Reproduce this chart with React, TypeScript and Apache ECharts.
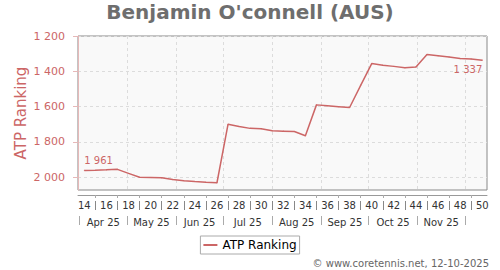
import React, { useEffect, useRef } from 'react';
import * as echarts from 'echarts';

// ISO weeks of 2025 (one ranking per week)
const weeks = [14, 15, 16, 17, 18, 19, 20, 21, 22, 23, 24, 25, 26, 27, 28, 29, 30, 31, 32, 33, 34, 35, 36, 37, 38, 39, 40, 41, 42, 43, 44, 45, 46, 47, 48, 49, 50];
const ranks = [1961, 1960, 1958, 1955, 1978, 2000, 2001, 2003, 2013, 2019, 2024, 2028, 2031, 1700, 1712, 1723, 1725, 1737, 1739, 1741, 1765, 1590, 1595, 1600, 1605, 1480, 1356, 1365, 1372, 1380, 1375, 1305, 1312, 1319, 1328, 1330, 1337];
const weekLabels = [14, 16, 18, 20, 22, 24, 26, 28, 30, 32, 34, 36, 38, 40, 42, 44, 46, 48, 50];
const monthLabels = ['Apr 25', 'May 25', 'Jun 25', 'Jul 25', 'Aug 25', 'Sep 25', 'Oct 25', 'Nov 25'];
const yTicks = [1200, 1400, 1600, 1800, 2000];

const TITLE = "Benjamin O'connell (AUS)";
const SERIES = 'ATP Ranking';
const CREDIT = '\u00a9 www.coretennis.net, 12-10-2025';

const FONT = 'DejaVu Sans';
const RED = '#cc6666';
const DAY = 86400000;
const START = Date.UTC(2025, 2, 31); // Monday of week 14
const firstWeek = weeks[0];
const lastWeek = weeks[weeks.length - 1];
const AXIS_END = (lastWeek - firstWeek + 1) * 7;
const RANK_DAY = 4; // position of the weekly point inside its week

const dayOf = (m: number, d: number) => (Date.UTC(2025, m, d) - START) / DAY;
const monthStarts = [3, 4, 5, 6, 7, 8, 9, 10, 11].map((m) => dayOf(m, 1));
const monthMids = monthStarts.slice(0, -1).map((s, i) => (s + monthStarts[i + 1]) / 2);
const weekStart = (w: number) => (w - firstWeek) * 7;
const weekPoint = (w: number) => weekStart(w) + RANK_DAY;
const weekLabelPos = weekLabels.map(weekPoint);
const oddWeekPos = weeks.filter((w) => !weekLabels.includes(w)).map(weekPoint);

const fmt = (v: number) => String(Math.round(v)).replace(/\B(?=(\d{3})+(?!\d))/g, ' ');

const baseX = {
  type: 'value',
  min: 0,
  max: AXIS_END,
  position: 'bottom',
  gridIndex: 0,
  splitLine: { show: false },
  axisLine: { show: false },
  axisTick: { show: false },
  axisLabel: { show: false },
};

export default function App() {
  const ref = useRef<HTMLDivElement>(null);
  useEffect(() => {
    document.body.style.margin = '0';
    if (!ref.current) return;
    const chart = echarts.init(ref.current, undefined, { renderer: 'svg' });
    const last = weeks.length - 1;
    const data = weeks.map((w, i) => {
      const item: any = { value: [weekPoint(w), ranks[i]] };
      if (i === 0) {
        item.label = { show: true, position: 'top', align: 'left', distance: 4 };
      } else if (i === last) {
        item.label = { show: true, position: 'bottom', align: 'right', distance: 4 };
      }
      return item;
    });
    chart.setOption({
      animation: false,
      textStyle: { fontFamily: FONT },
      title: [
        {
          text: TITLE,
          left: 'center',
          top: 2,
          padding: 0,
          textStyle: { fontFamily: FONT, fontSize: 20, fontWeight: 'bold', color: '#6e6e6e' },
        },
        {
          text: CREDIT,
          right: 11,
          top: 258,
          padding: 0,
          textStyle: { fontFamily: FONT, fontSize: 10, fontWeight: 'normal', color: '#666' },
        },
      ],
      legend: {
        data: [{ name: SERIES, itemStyle: { color: RED } }],
        left: 'center',
        top: 236,
        padding: [3, 3],
        icon: 'rect',
        itemWidth: 14,
        itemHeight: 2,
        borderColor: '#aaa',
        borderWidth: 1,
        borderRadius: 0,
        textStyle: { fontFamily: FONT, fontSize: 12, color: '#000' },
      },
      grid: {
        left: 78,
        right: 13,
        top: 36,
        bottom: 80,
        show: true,
        backgroundColor: '#f9f9f9',
        borderColor: '#888',
        borderWidth: 1,
      },
      xAxis: [
        {
          ...baseX,
          axisTick: { show: false, customValues: monthStarts.slice(1) },
          splitLine: { show: true, lineStyle: { color: '#dcdcdc', type: [3, 3], width: 1 } },
        },
        {
          ...baseX,
          offset: 5,
          axisLine: { show: true, lineStyle: { color: '#999', width: 1 } },
          axisTick: { show: true, length: 3, customValues: oddWeekPos, lineStyle: { color: '#aaa' } },
          axisLabel: {
            show: true,
            customValues: weekLabelPos,
            margin: 5,
            fontSize: 10,
            color: '#333',
            fontFamily: FONT,
            formatter: (v: number) => String(Math.round((v - RANK_DAY) / 7) + firstWeek),
          },
        },
        {
          ...baseX,
          offset: 11,
          axisTick: { show: true, length: 9, customValues: oddWeekPos, lineStyle: { color: '#888' } },
        },
        {
          ...baseX,
          offset: 5,
          axisLabel: {
            show: true,
            customValues: monthMids,
            margin: 22,
            fontSize: 10,
            color: '#333',
            fontFamily: FONT,
            formatter: (v: number) => {
              const i = monthMids.findIndex((m) => Math.abs(m - v) < 0.01);
              return i >= 0 ? monthLabels[i] : '';
            },
          },
        },
        {
          ...baseX,
          offset: 26,
          axisTick: { show: true, length: 9, customValues: monthStarts, lineStyle: { color: '#aaa' } },
        },
      ],
      yAxis: {
        type: 'value',
        inverse: true,
        min: 1200,
        max: 2072,
        interval: 200,
        offset: 5,
        axisLine: { show: true, lineStyle: { color: '#e6b8b8' } },
        axisTick: { show: true, length: 5, customValues: yTicks, lineStyle: { color: '#e6b8b8' } },
        axisLabel: {
          customValues: yTicks,
          margin: 8,
          fontSize: 11,
          color: RED,
          fontFamily: FONT,
          formatter: (v: number) => fmt(v),
        },
        splitLine: { show: true, lineStyle: { color: '#dcdcdc', type: [3, 3] } },
        name: SERIES,
        nameLocation: 'middle',
        nameGap: 45,
        nameMoveOverlap: false,
        nameTextStyle: { color: RED, fontSize: 15, fontFamily: FONT },
      },
      series: [
        {
          type: 'line',
          name: SERIES,
          xAxisIndex: 0,
          yAxisIndex: 0,
          data,
          symbol: 'circle',
          symbolSize: 1,
          showSymbol: true,
          lineStyle: { color: RED, width: 1.5 },
          itemStyle: { color: RED },
          label: {
            show: false,
            color: RED,
            fontSize: 10,
            fontFamily: FONT,
            formatter: (p: any) => fmt(p.value[1]),
          },
          emphasis: { disabled: true },
        },
      ],
    });
    return () => chart.dispose();
  }, []);
  return <div ref={ref} style={{ width: 500, height: 270 }} />;
}
